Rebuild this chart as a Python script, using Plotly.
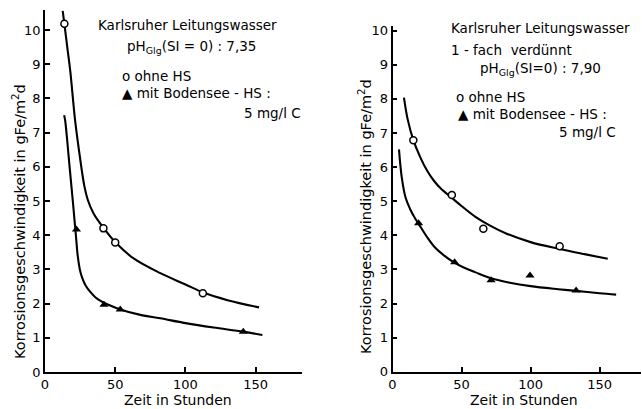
import plotly.graph_objects as go

# ---- data ----
ticks_x = [0, 50, 100, 150]
ticks_y = list(range(0, 11))

# left panel: Karlsruher Leitungswasser
left_circ_t = [13.8, 41.6, 50.0, 112.4]
left_circ_v = [10.18, 4.20, 3.79, 2.30]
left_tri_t = [22.4, 42.0, 53.6, 141.2]
left_tri_v = [4.17, 1.97, 1.83, 1.18]
left_circ_fit_t = [12.6, 13.8, 16.0, 18.0, 21.4, 24.5, 28.1, 30.5, 34.5, 38.1, 41.6, 50.0, 63.1, 82.1, 100.0, 112.4, 130.0, 152.4]
left_circ_fit_v = [10.56, 10.18, 9.45, 8.80, 7.37, 6.39, 5.42, 5.03, 4.64, 4.41, 4.22, 3.80, 3.32, 2.89, 2.56, 2.33, 2.10, 1.89]
left_tri_fit_t = [13.6, 14.3, 17.4, 19.8, 21.0, 22.2, 23.3, 24.8, 26.5, 29.0, 32.1, 36.0, 40.5, 46.0, 53.6, 67.9, 82.0, 100.0, 120.0, 141.2, 154.8]
left_tri_fit_v = [7.51, 7.37, 6.05, 5.00, 4.45, 3.90, 3.40, 3.00, 2.75, 2.52, 2.35, 2.18, 2.06, 1.95, 1.83, 1.67, 1.57, 1.43, 1.30, 1.18, 1.08]

# right panel: 1-fach verdünnt
right_circ_t = [15.1, 43.0, 65.8, 121.1]
right_circ_v = [6.79, 5.18, 4.19, 3.68]
right_tri_t = [18.9, 45.0, 71.4, 99.6, 133.0]
right_tri_v = [4.35, 3.21, 2.68, 2.82, 2.38]
right_circ_fit_t = [8.3, 11.0, 15.1, 20.0, 25.0, 30.0, 35.0, 42.9, 50.0, 59.8, 70.0, 81.5, 100.0, 121.0, 140.0, 155.9]
right_circ_fit_v = [8.04, 7.40, 6.79, 6.30, 5.90, 5.60, 5.37, 5.10, 4.86, 4.55, 4.30, 4.07, 3.80, 3.60, 3.44, 3.31]
right_tri_fit_t = [4.7, 6.7, 9.5, 13.0, 16.3, 18.7, 25.0, 30.8, 37.0, 44.8, 52.0, 59.8, 71.4, 85.0, 100.0, 120.0, 133.0, 150.0, 162.0]
right_tri_fit_v = [6.52, 5.70, 5.10, 4.75, 4.50, 4.35, 3.95, 3.64, 3.42, 3.20, 3.05, 2.92, 2.74, 2.61, 2.51, 2.42, 2.37, 2.30, 2.26]

FONT = "DejaVu Sans"
fig = go.Figure()

def add_panel(xa, ya, ft1, fv1, ft2, fv2, ct, cv, tt, tv):
    for ft, fv in ((ft1, fv1), (ft2, fv2)):
        fig.add_trace(go.Scatter(x=ft, y=fv, mode="lines", xaxis=xa, yaxis=ya,
                                 line=dict(color="black", width=2.1, shape="spline", smoothing=1.0),
                                 showlegend=False, hoverinfo="skip"))
    fig.add_trace(go.Scatter(x=ct, y=cv, mode="markers", xaxis=xa, yaxis=ya,
                             marker=dict(symbol="circle", size=7, color="white",
                                         line=dict(width=1.5, color="black")),
                             showlegend=False, cliponaxis=False))
    fig.add_trace(go.Scatter(x=tt, y=tv, mode="markers", xaxis=xa, yaxis=ya,
                             marker=dict(symbol="triangle-up", size=8, color="black"),
                             showlegend=False, cliponaxis=False))

add_panel("x", "y", left_circ_fit_t, left_circ_fit_v, left_tri_fit_t, left_tri_fit_v,
          left_circ_t, left_circ_v, left_tri_t, left_tri_v)
add_panel("x2", "y2", right_circ_fit_t, right_circ_fit_v, right_tri_fit_t, right_tri_fit_v,
          right_circ_t, right_circ_v, right_tri_t, right_tri_v)

W, H = 642, 409
axis_common = dict(showline=True, linecolor="black", linewidth=1.6, ticks="inside", ticklen=5,
                   tickcolor="black", tickwidth=1.5, showgrid=False, zeroline=False,
                   tickfont=dict(family=FONT, size=13, color="black"), automargin=False)

fig.update_layout(
    width=W, height=H, margin=dict(l=0, r=0, t=0, b=0),
    paper_bgcolor="white", plot_bgcolor="white",
    xaxis=dict(domain=[45 / W, 302 / W], range=[0, 183], tickvals=ticks_x, anchor="y", **axis_common),
    yaxis=dict(domain=[37 / H, (H - 9.5) / H], range=[0, 10.6], tickvals=ticks_y, anchor="x", **axis_common),
    xaxis2=dict(domain=[392.5 / W, 641 / W], range=[0, 180], tickvals=ticks_x, anchor="y2", **axis_common),
    yaxis2=dict(domain=[37.3 / H, (H - 25.6) / H], range=[0, 10.15], tickvals=ticks_y, anchor="x2", **axis_common),
)

def ann(text, x, y, size=13, xanchor="center", angle=0):
    fig.add_annotation(text=text, x=x / W, y=1 - y / H, xref="paper", yref="paper",
                       xanchor=xanchor, yanchor="middle", showarrow=False, textangle=angle,
                       font=dict(family=FONT, size=size, color="black"))

ytitle = "Korrosionsgeschwindigkeit in gFe/m<sup>2</sup>d"
ann(ytitle, 19, 222, size=14.5, angle=-90)
ann(ytitle, 365, 217, size=14.5, angle=-90)
ann("Zeit in Stunden", 178, 400, size=14)
ann("Zeit in Stunden", 524, 400, size=14)

LS = 13.5
# left legend block
ann("Karlsruher Leitungswasser", 96, 25, size=LS, xanchor="left")
ann("pH<sub>Glg</sub>(SI = 0) : 7,35", 125, 47, size=LS, xanchor="left")
ann("o ohne HS", 120, 76, size=LS, xanchor="left")
ann("▲ mit Bodensee - HS :", 120, 93, size=LS, xanchor="left")
ann("5 mg/l C", 303, 113, size=LS, xanchor="right")

# right legend block
ann("Karlsruher Leitungswasser", 449, 28, size=LS, xanchor="left")
ann("1 - fach  verdünnt", 449, 50, size=LS, xanchor="left")
ann("pH<sub>Glg</sub>(SI=0) : 7,90", 478, 69, size=LS, xanchor="left")
ann("o ohne HS", 454, 97, size=LS, xanchor="left")
ann("▲ mit Bodensee - HS :", 456, 114, size=LS, xanchor="left")
ann("5 mg/l C", 618, 132, size=LS, xanchor="right")

fig.write_html("out.html")
